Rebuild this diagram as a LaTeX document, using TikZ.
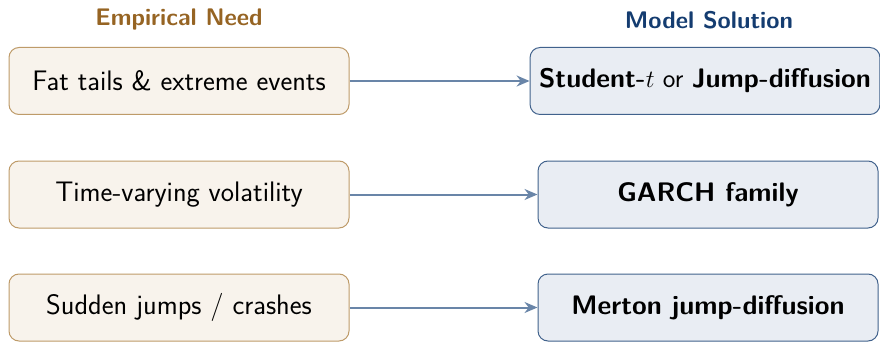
\documentclass[tikz,border=0pt]{standalone}
\usetikzlibrary{arrows.meta}
\definecolor{needfill}{RGB}{248,243,236}
\definecolor{needdraw}{RGB}{190,155,105}
\definecolor{solfill}{RGB}{233,237,243}
\definecolor{soldraw}{RGB}{65,98,140}
\definecolor{arrowcol}{RGB}{105,133,168}
\definecolor{needtitle}{RGB}{150,100,35}
\definecolor{soltitle}{RGB}{20,60,112}
\renewcommand{\familydefault}{\sfdefault}
\tikzset{
  needbox/.style={draw=needdraw, fill=needfill, line width=1pt, rounded corners=10pt,
    minimum width=340pt, minimum height=67pt, inner sep=0pt,
    font=\fontsize{28.2}{32}\selectfont},
  solbox/.style={draw=soldraw, fill=solfill, line width=1pt, rounded corners=10pt,
    minimum width=340pt, minimum height=67pt, inner xsep=9pt, inner ysep=0pt,
    font=\fontsize{26.8}{32}\selectfont},
  link/.style={draw=arrowcol, line width=2pt, -{Stealth[length=13pt,width=11pt]}},
  coltitle/.style={font=\fontsize{24}{28}\selectfont\bfseries, anchor=base}
}
\begin{document}
\begin{tikzpicture}[x=1pt,y=-1pt]
\useasboundingbox (0,0) rectangle (880,342);
\clip (0,0) rectangle (880,342);
\node[coltitle, text=needtitle] (t1) at (179,26) {Empirical Need};
\node[coltitle, text=soltitle] (t2) at (709,29) {Model Solution};
\node[needbox] (n1) at (179,81) {Fat tails \& extreme events};
\node[needbox] (n2) at (179,194.5) {Time-varying volatility};
\node[needbox] (n3) at (179,307.5) {Sudden jumps / crashes};
\node[solbox] (s1) at (705,81) {\textbf{Student-}$t$ or \textbf{Jump-diffusion}};
\node[solbox] (s2) at (708,194.5) {\textbf{GARCH family}};
\node[solbox] (s3) at (708,307.5) {\textbf{Merton jump-diffusion}};
\draw[link] (n1) -- (s1);
\draw[link] (n2) -- (s2);
\draw[link] (n3) -- (s3);
\end{tikzpicture}
\end{document}
